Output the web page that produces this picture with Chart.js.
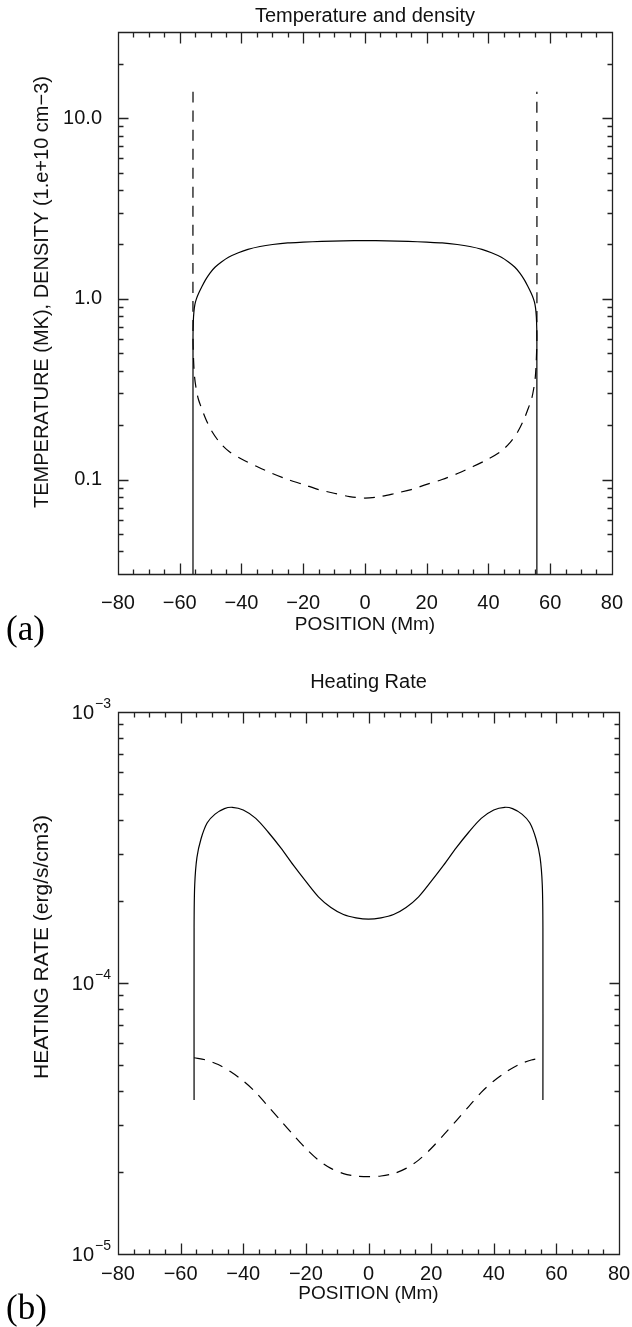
<!DOCTYPE html>
<html><head><meta charset="utf-8">
<script src="https://cdn.jsdelivr.net/npm/chart.js@4.4.1/dist/chart.umd.min.js"></script>
<style>
html,body{margin:0;padding:0;background:#fff;}
#wrap{position:relative;width:632px;height:1327px;overflow:hidden;background:#fff;}
canvas{position:absolute;left:0;}
.panel{position:absolute;left:6px;font-family:"Liberation Serif","Times New Roman",serif;font-size:35px;line-height:35px;color:#000;}
</style></head><body>
<div id="wrap">
<canvas id="c1" width="632" height="681" style="top:0px"></canvas>
<canvas id="c2" width="632" height="661" style="top:666px"></canvas>
<div class="panel" style="top:611px">(a)</div>
<div class="panel" style="top:1290px">(b)</div>
</div>
<script>
// ---------- data ----------
const xTicks = [-80, -60, -40, -20, 0, 20, 40, 60, 80];
const xTickLabels = ['\u221280', '\u221260', '\u221240', '\u221220', '0', '20', '40', '60', '80'];
const xMinor = [-75, -70, -65, -55, -50, -45, -35, -30, -25, -15, -10, -5, 5, 10, 15, 25, 30, 35, 45, 50, 55, 65, 70, 75];

// panel (a): temperature (MK, solid) and density (1e10 cm^-3, dashed)
const tempX = [-55.7, -55.7, -55.6, -55.4, -55.1, -54.6, -53.8, -52.8, -51.7, -50.2, -48.5, -46.5, -44.2, -41, -37.9, -34, -29.9, -25, -20, -14, -7, 0,
               7, 14, 20, 25, 29.9, 34, 37.9, 41, 44.2, 46.5, 48.5, 50.2, 51.7, 52.8, 53.8, 54.6, 55.1, 55.4, 55.6, 55.7, 55.7];
const tempY = [0.02, 0.62, 0.75, 0.85, 0.93, 1.0, 1.08, 1.17, 1.27, 1.39, 1.5, 1.6, 1.7, 1.8, 1.88, 1.95, 2.0, 2.04, 2.06, 2.08, 2.095, 2.1,
               2.095, 2.08, 2.06, 2.04, 2.0, 1.95, 1.88, 1.8, 1.7, 1.6, 1.5, 1.39, 1.27, 1.17, 1.08, 1.0, 0.93, 0.85, 0.75, 0.62, 0.02];
const densX = [-55.7, -55.7, -55.5, -55.2, -54.7, -54, -53, -51.5, -49.6, -47, -44, -40, -35, -30, -25, -20, -15, -10, -5, 0,
               5, 10, 15, 20, 25, 30, 35, 40, 44, 47, 49.6, 51.5, 53, 54, 54.7, 55.2, 55.5, 55.7, 55.7];
const densY = [14, 0.6, 0.45, 0.37, 0.32, 0.28, 0.25, 0.215, 0.185, 0.16, 0.143, 0.13, 0.118, 0.108, 0.1, 0.094, 0.088, 0.084, 0.0805, 0.079,
               0.0805, 0.084, 0.088, 0.094, 0.1, 0.108, 0.118, 0.13, 0.143, 0.16, 0.185, 0.215, 0.25, 0.28, 0.32, 0.37, 0.45, 0.6, 14];
const yTicksA = [0.1, 1, 10];
const yLabelsA = ['0.1', '1.0', '10.0'];
const yMinorA = [0.04, 0.05, 0.06, 0.07, 0.08, 0.09, 0.2, 0.3, 0.4, 0.5, 0.6, 0.7, 0.8, 0.9, 2, 3, 4, 5, 6, 7, 8, 9, 20, 30];

// panel (b): heating rate (erg/s/cm3)
const heatX = [-55.7, -55.7, -55.5, -54.8, -53.5, -51.5, -49, -46, -43.5, -40, -36, -32, -28, -24, -20, -16, -12, -8, -4, 0,
               4, 8, 12, 16, 20, 24, 28, 32, 36, 40, 43.5, 46, 49, 51.5, 53.5, 54.8, 55.5, 55.7, 55.7];
const heatY = [3.7e-5, 1.6e-4, 2.3e-4, 2.9e-4, 3.4e-4, 3.9e-4, 4.2e-4, 4.4e-4, 4.45e-4, 4.35e-4, 4.05e-4, 3.6e-4, 3.15e-4, 2.72e-4, 2.37e-4, 2.08e-4, 1.9e-4, 1.79e-4, 1.74e-4, 1.72e-4,
               1.74e-4, 1.79e-4, 1.9e-4, 2.08e-4, 2.37e-4, 2.72e-4, 3.15e-4, 3.6e-4, 4.05e-4, 4.35e-4, 4.45e-4, 4.4e-4, 4.2e-4, 3.9e-4, 3.4e-4, 2.9e-4, 2.3e-4, 1.6e-4, 3.7e-5];
const heat2X = [-55.7, -52, -48, -44, -40, -36, -32, -28, -24, -20, -16, -12, -8, -4, 0,
                4, 8, 12, 16, 20, 24, 28, 32, 36, 40, 44, 48, 52, 55.7];
const heat2Y = [5.3e-5, 5.2e-5, 5.0e-5, 4.7e-5, 4.35e-5, 3.95e-5, 3.5e-5, 3.1e-5, 2.75e-5, 2.45e-5, 2.22e-5, 2.07e-5, 1.98e-5, 1.94e-5, 1.93e-5,
                1.94e-5, 1.98e-5, 2.07e-5, 2.22e-5, 2.45e-5, 2.75e-5, 3.1e-5, 3.5e-5, 3.95e-5, 4.35e-5, 4.7e-5, 5.0e-5, 5.2e-5, 5.3e-5];
const yTicksB = [1e-5, 1e-4, 1e-3];
const yLabelBaseB = ['10', '10', '10'];
const yLabelExpB = ['\u22125', '\u22124', '\u22123'];
const yMinorB = [2e-5, 3e-5, 4e-5, 5e-5, 6e-5, 7e-5, 8e-5, 9e-5, 2e-4, 3e-4, 4e-4, 5e-4, 6e-4, 7e-4, 8e-4, 9e-4];

// ---------- drawing ----------
const FONT = '"Liberation Sans", Arial, sans-serif';
const TXT = '#111';
const pts = (xs, ys) => xs.map((x, i) => ({x: x, y: ys[i]}));

const frameTicks = {
  id: 'frameTicks',
  afterDatasetsDraw(chart, args, o) {
    const {ctx, chartArea: a} = chart;
    const xs = chart.scales.x, ys = chart.scales.y;
    ctx.save();
    ctx.strokeStyle = '#222';
    ctx.lineWidth = 1.3;
    ctx.beginPath();
    const L = Math.round(a.left) + 0.5, R = Math.round(a.right) + 0.5, T = Math.round(a.top) + 0.5, B = Math.round(a.bottom) + 0.5;
    ctx.rect(L, T, R - L, B - T);
    const xt = (vals, len) => vals.forEach(v => {
      const p = Math.round(xs.getPixelForValue(v)) + 0.5;
      ctx.moveTo(p, B); ctx.lineTo(p, B - len); ctx.moveTo(p, T); ctx.lineTo(p, T + len);
    });
    const yt = (vals, len) => vals.forEach(v => {
      const p = Math.round(ys.getPixelForValue(v)) + 0.5;
      ctx.moveTo(L, p); ctx.lineTo(L + len, p); ctx.moveTo(R, p); ctx.lineTo(R - len, p);
    });
    xt(o.xMajor, 11); xt(o.xMinor, 5);
    yt(o.yMajor, 10); yt(o.yMinor, 5);
    ctx.stroke();
    ctx.fillStyle = TXT;
    // power-of-ten tick labels (base + superscript exponent)
    if (o.bases) {
      ctx.textBaseline = 'middle';
      ctx.textAlign = 'left';
      o.yMajor.forEach((v, i) => {
        const p = ys.getPixelForValue(v);
        ctx.font = '14px ' + FONT;
        const ew = ctx.measureText(o.exps[i]).width;
        ctx.font = '20px ' + FONT;
        const bw = ctx.measureText(o.bases[i]).width;
        const right = a.left - 7;
        ctx.fillText(o.bases[i], right - ew - bw - 1, p + 1);
        ctx.font = '14px ' + FONT;
        ctx.fillText(o.exps[i], right - ew, p - 8);
      });
    }
    // rotated y-axis title
    ctx.save();
    ctx.translate(o.yTitleX, o.yTitleY);
    ctx.rotate(-Math.PI / 2);
    ctx.font = o.yTitleSize + 'px ' + FONT;
    ctx.textAlign = 'center';
    ctx.textBaseline = 'middle';
    ctx.fillText(o.yTitle, 0, 0);
    ctx.restore();
    ctx.restore();
  }
};

function makeChart(id, c) {
  return new Chart(document.getElementById(id), {
    type: 'line',
    data: { datasets: c.datasets },
    options: {
      responsive: false, animation: false, devicePixelRatio: 1,
      layout: { padding: { left: 0, right: 632 - 619, top: 0, bottom: 0 } },
      elements: { point: { radius: 0 } },
      plugins: {
        legend: { display: false }, tooltip: { enabled: false },
        title: { display: true, fullSize: false, text: c.title, color: TXT, font: { family: FONT, size: 20, weight: 'normal', lineHeight: 1.2 }, padding: c.titlePad },
        frameTicks: { xMajor: xTicks, xMinor: xMinor, yMajor: c.yTicks, yMinor: c.yMinor, bases: c.bases, exps: c.exps,
                      yTitle: c.yTitle, yTitleX: 42, yTitleY: c.yTitleY, yTitleSize: c.yTitleSize }
      },
      scales: {
        x: {
          type: 'linear', position: 'bottom', min: -80, max: 80,
          grid: { display: false }, border: { display: false },
          afterBuildTicks: s => { s.ticks = xTicks.map(v => ({ value: v })); },
          ticks: { padding: c.xLabelPad, color: TXT, autoSkip: false, maxRotation: 0, font: { family: FONT, size: 20 },
                   callback: (v, i) => xTickLabels[i] },
          title: { display: true, text: 'POSITION (Mm)', color: TXT, font: { family: FONT, size: 19, lineHeight: 1.2 }, padding: { top: 0, bottom: c.xTitlePad } },
          afterFit: s => { s.height = c.xHeight; }
        },
        y: {
          type: 'logarithmic', position: 'left', min: c.yMin, max: c.yMax,
          grid: { display: false }, border: { display: false },
          afterBuildTicks: s => { s.ticks = c.yTicks.map(v => ({ value: v })); },
          ticks: { display: !c.bases, padding: 8, color: TXT, autoSkip: false, font: { family: FONT, size: 20 },
                   callback: (v, i) => c.yLabels ? c.yLabels[i] : '' },
          title: { display: false },
          afterFit: s => { s.width = 118; }
        }
      }
    },
    plugins: [frameTicks]
  });
}

const lineStyle = { borderColor: '#000', borderWidth: 1.2, pointRadius: 0, tension: 0.3, fill: false };

makeChart('c1', {
  title: 'Temperature and density', titlePad: { top: 4, bottom: 4 },
  yTitle: 'TEMPERATURE (MK), DENSITY (1.e+10 cm\u22123)', yTitleY: 292, yTitleSize: 20,
  yMin: 0.03, yMax: 30, yTicks: yTicksA, yLabels: yLabelsA, yMinor: yMinorA,
  xHeight: 681 - 574, xLabelPad: 9, xTitlePad: 45,
  datasets: [
    Object.assign({ data: pts(tempX, tempY) }, lineStyle),
    Object.assign({ data: pts(densX, densY), borderDash: [11, 8] }, lineStyle)
  ]
});
makeChart('c2', {
  title: 'Heating Rate', titlePad: { top: 4, bottom: 18 },
  yTitle: 'HEATING RATE (erg/s/cm3)', yTitleY: 947 - 666, yTitleSize: 21,
  yMin: 1e-5, yMax: 1e-3, yTicks: yTicksB, bases: yLabelBaseB, exps: yLabelExpB, yMinor: yMinorB,
  xHeight: 661 - 588, xLabelPad: 0, xTitlePad: 21.6,
  datasets: [
    Object.assign({ data: pts(heatX, heatY) }, lineStyle),
    Object.assign({ data: pts(heat2X, heat2Y), borderDash: [11, 8] }, lineStyle)
  ]
});
</script>
</body></html>
